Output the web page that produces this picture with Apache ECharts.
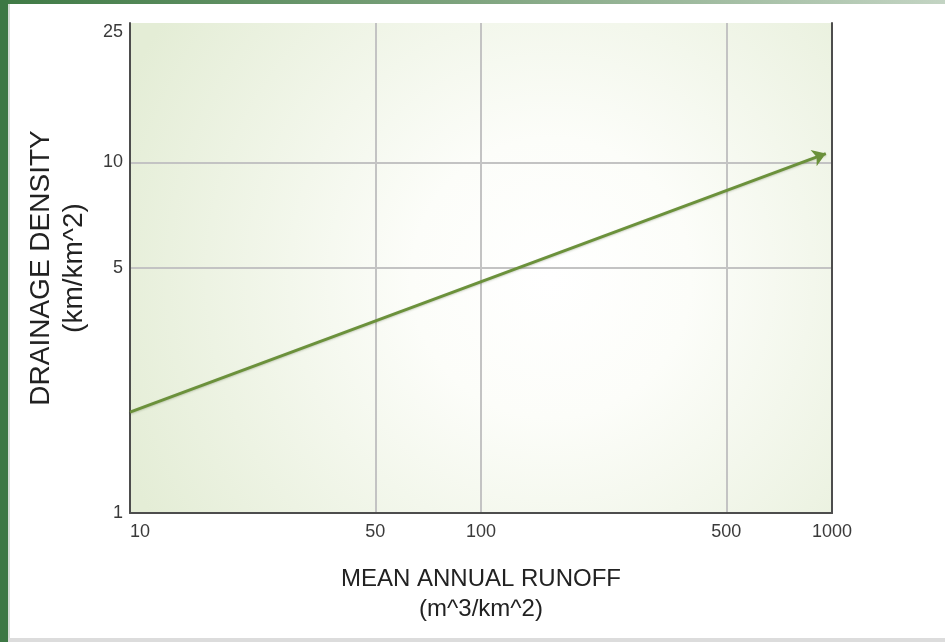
<!DOCTYPE html>
<html>
<head>
<meta charset="utf-8">
<title>Drainage density vs mean annual runoff</title>
<script src="https://cdn.jsdelivr.net/npm/echarts@6/dist/echarts.min.js"></script>
<style>
  html, body { margin: 0; padding: 0; background: #ffffff; }
  #chart { width: 945px; height: 642px; }
</style>
</head>
<body>
<div id="chart"></div>
<script>
// Runoff (x) and drainage density (y), both on log10 scales
const runoffTicks = [10, 50, 100, 500, 1000];
const runoffGrid = [50, 100, 500];
const densityTicks = [1, 5, 10, 25];
const densityGrid = [5, 10];

// Trend line: start and arrow tip
const runoff = [10, 960];
const density = [1.94, 10.6];

const lg = Math.log10;
const fmt = v => String(Math.round(Math.pow(10, v)));

const FONT = '"Liberation Sans", Arial, sans-serif';
const AXIS_COLOR = '#4d4d4d';
const GRID_COLOR = '#c3c3c3';
const LINE_COLOR = '#6b913b';

const trend = runoff.map((x, i) => [lg(x), lg(density[i])]);

const chart = echarts.init(document.getElementById('chart'), null, { renderer: 'canvas' });

chart.setOption({
  backgroundColor: '#ffffff',
  animation: false,
  textStyle: { fontFamily: FONT },
  graphic: [
    // page frame: green strip on the left, thin band along the top, grey rule at the bottom
    { type: 'rect', left: 0, top: 0, shape: { width: 945, height: 4 },
      style: { fill: new echarts.graphic.LinearGradient(0, 0, 1, 0, [
        { offset: 0, color: '#3f7a45' }, { offset: 0.5, color: '#7fa47f' }, { offset: 1, color: '#c3d4c3' }]) } },
    { type: 'rect', left: 0, top: 0, shape: { width: 8, height: 642 }, style: { fill: '#3d7844' } },
    { type: 'rect', left: 8, top: 4, shape: { width: 2, height: 638 }, style: { fill: '#d7ddd7' } },
    { type: 'rect', left: 8, top: 638, shape: { width: 937, height: 4 }, style: { fill: '#dcdcdc' } }
  ],
  grid: {
    left: 130, top: 23, right: 113, bottom: 129,
    show: true,
    borderWidth: 0,
    backgroundColor: {
      type: 'radial', x: 0.6, y: 0.52, r: 0.95,
      colorStops: [
        { offset: 0, color: '#ffffff' },
        { offset: 0.3, color: '#fcfdf9' },
        { offset: 1, color: '#e4edd6' }
      ]
    }
  },
  xAxis: {
    type: 'value',
    min: lg(runoffTicks[0]),
    max: lg(runoffTicks[runoffTicks.length - 1]),
    name: 'MEAN ANNUAL RUNOFF\n(m^3/km^2)',
    nameLocation: 'middle',
    nameGap: 51,
    nameTextStyle: { fontSize: 24, color: '#222222', lineHeight: 30, fontFamily: FONT },
    axisLine: { show: true, onZero: false, lineStyle: { color: AXIS_COLOR, width: 2 } },
    axisTick: { show: false, customValues: runoffGrid.map(lg) },
    axisLabel: {
      customValues: runoffTicks.map(lg),
      formatter: fmt,
      fontSize: 18, color: '#3a3a3a', margin: 10,
      alignMinLabel: 'left'
    },
    splitLine: { show: true, lineStyle: { color: GRID_COLOR, width: 2 } }
  },
  yAxis: [{
    type: 'value',
    min: lg(densityTicks[0]),
    max: lg(densityTicks[densityTicks.length - 1]),
    name: 'DRAINAGE DENSITY\n(km/km^2)',
    nameLocation: 'middle',
    nameGap: 39,
    nameTextStyle: { fontSize: 28, color: '#222222', lineHeight: 33, fontFamily: FONT },
    axisLine: { show: true, onZero: false, lineStyle: { color: AXIS_COLOR, width: 2 } },
    axisTick: { show: false, customValues: densityGrid.map(lg) },
    axisLabel: {
      customValues: densityTicks.map(lg),
      formatter: fmt,
      fontSize: 18, color: '#3a3a3a', margin: 7,
      verticalAlignMaxLabel: 'top'
    },
    splitLine: { show: true, lineStyle: { color: GRID_COLOR, width: 2 } }
  }, {
    // right-hand frame of the plot area
    type: 'value',
    position: 'right',
    min: lg(densityTicks[0]),
    max: lg(densityTicks[densityTicks.length - 1]),
    axisLine: { show: true, onZero: false, lineStyle: { color: AXIS_COLOR, width: 2 } },
    axisTick: { show: false },
    axisLabel: { show: false },
    splitLine: { show: false }
  }],
  series: [{
    type: 'lines',
    coordinateSystem: 'cartesian2d',
    xAxisIndex: 0,
    yAxisIndex: 0,
    symbol: ['none', 'arrow'],
    symbolSize: [0, 13],
    lineStyle: { color: LINE_COLOR, width: 3, opacity: 1, curveness: 0,
      shadowColor: 'rgba(60,80,30,0.25)', shadowBlur: 2, shadowOffsetY: 1 },
    itemStyle: { color: LINE_COLOR },
    data: [{ coords: trend }],
    z: 5
  }]
});
</script>
</body>
</html>
